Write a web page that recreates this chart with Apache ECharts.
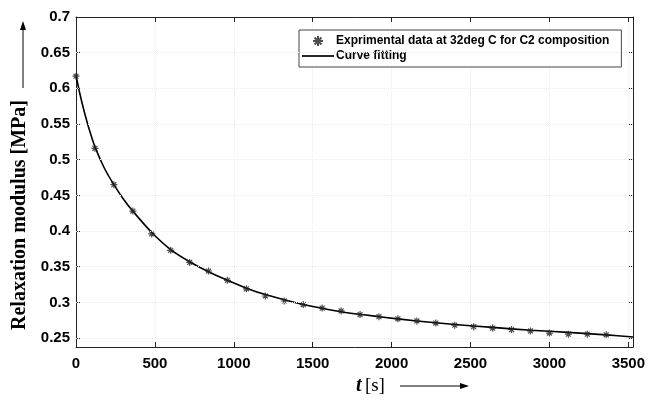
<!DOCTYPE html>
<html>
<head>
<meta charset="utf-8">
<script src="https://cdn.jsdelivr.net/npm/echarts@6/dist/echarts.min.js"></script>
<style>
  html, body { margin: 0; padding: 0; background: #fff; }
  #chart { width: 648px; height: 401px; }
</style>
</head>
<body>
<div id="chart"></div>
<script>
// measured points (time in s, modulus in MPa)
var expT = [0, 120, 240, 360, 480, 600, 720, 840, 960, 1080, 1200, 1320, 1440, 1560, 1680,
    1800, 1920, 2040, 2160, 2280, 2400, 2520, 2640, 2760, 2880, 3000, 3120, 3240, 3360];
var expG = [0.617, 0.516, 0.465, 0.428, 0.396, 0.373, 0.356, 0.344, 0.331, 0.319, 0.309, 0.302,
    0.297, 0.292, 0.288, 0.283, 0.280, 0.277, 0.274, 0.271, 0.268, 0.266, 0.264, 0.262,
    0.260, 0.257, 0.2555, 0.2555, 0.2546];

// fitted curve
var fitT = [0, 20, 40, 60, 90, 120, 180, 240, 300, 360, 480, 600, 720, 840, 960, 1080, 1200,
    1440, 1680, 1920, 2160, 2400, 2640, 2880, 3120, 3360, 3530];
var fitG = [0.618, 0.597, 0.578, 0.561, 0.538, 0.518, 0.488, 0.465, 0.445, 0.428, 0.398, 0.374,
    0.357, 0.343, 0.331, 0.320, 0.311, 0.297, 0.287, 0.280, 0.274, 0.269, 0.265, 0.261,
    0.258, 0.2545, 0.2515];

var yTicks = [0.25, 0.3, 0.35, 0.4, 0.45, 0.5, 0.55, 0.6, 0.65, 0.7];

var chart = echarts.init(document.getElementById('chart'));

var star = 'path://M5,0 L5,10 M0,5 L10,5 M1.5,1.5 L8.5,8.5 M1.5,8.5 L8.5,1.5';
var labelFont = {
    color: '#000',
    fontFamily: '"Liberation Sans", Arial, sans-serif',
    fontWeight: 'bold',
    fontSize: 15
};
var gridCol = '#ececec';
var boxLine = { show: true, onZero: false, lineStyle: { color: '#222', width: 1 } };
var tickIn = { show: true, inside: true, length: 5, lineStyle: { color: '#222' } };

chart.setOption({
    animation: false,
    grid: { left: 76, right: 13, top: 17, bottom: 54 },
    legend: {
        orient: 'vertical',
        left: 299,
        top: 30,
        padding: [5, 12, 5, 3],
        itemGap: 3,
        itemWidth: 32,
        itemHeight: 10,
        borderColor: '#444',
        borderWidth: 1,
        backgroundColor: '#fff',
        textStyle: {
            color: '#000',
            fontFamily: '"Liberation Sans", Arial, sans-serif',
            fontWeight: 'bold',
            fontSize: 12,
            padding: [0, 0, 0, -3]
        },
        data: [
            { name: 'Exprimental data at 32deg C for C2 composition' },
            { name: 'Curve fitting', icon: 'path://M0,4 L30,4 L30,5.6 L0,5.6 Z' }
        ]
    },
    xAxis: [{
        type: 'value',
        min: 0,
        max: 3530,
        interval: 500,
        axisLine: boxLine,
        axisTick: tickIn,
        axisLabel: Object.assign({ margin: 9, formatter: v => String(v) }, labelFont),
        splitLine: { show: true, lineStyle: { color: gridCol, type: 'dotted', width: 1 } }
    }, {
        type: 'value',
        position: 'top',
        min: 0,
        max: 3530,
        interval: 500,
        axisLine: boxLine,
        axisTick: tickIn,
        axisLabel: { show: false },
        splitLine: { show: false }
    }],
    yAxis: [{
        type: 'value',
        min: 0.2375,
        max: 0.7,
        axisLine: boxLine,
        axisTick: Object.assign({ customValues: yTicks }, tickIn),
        axisLabel: Object.assign({ margin: 6, customValues: yTicks }, labelFont),
        splitLine: { show: false }
    }, {
        type: 'value',
        position: 'right',
        min: 0.2375,
        max: 0.7,
        axisLine: boxLine,
        axisTick: Object.assign({ customValues: yTicks }, tickIn),
        axisLabel: { show: false, customValues: yTicks },
        splitLine: { show: false }
    }],
    series: [{
        name: 'Exprimental data at 32deg C for C2 composition',
        type: 'scatter',
        symbol: star,
        symbolSize: 7,
        itemStyle: { color: 'rgba(0,0,0,0)', borderColor: '#222', borderWidth: 1.2 },
        data: expT.map((t, i) => [t, expG[i]]),
        z: 3
    }, {
        name: 'Curve fitting',
        type: 'line',
        smooth: 0.3,
        symbol: 'none',
        lineStyle: { color: '#000', width: 1.6 },
        itemStyle: { color: '#000' },
        data: fitT.map((t, i) => [t, fitG[i]]),
        markLine: {
            silent: true,
            symbol: 'none',
            label: { show: false },
            lineStyle: { color: gridCol, type: 'dotted', width: 1 },
            data: yTicks.slice(0, -1).map(v => ({ yAxis: v }))
        },
        z: 2
    }],
    graphic: [
        {
            type: 'text',
            x: 20, y: 215,
            rotation: Math.PI / 2,
            style: {
                text: 'Relaxation modulus [MPa]',
                font: 'bold 20px "Liberation Serif", "Times New Roman", serif',
                fill: '#000',
                align: 'center',
                verticalAlign: 'middle'
            }
        },
        { type: 'line', shape: { x1: 23, y1: 88, x2: 23, y2: 28 }, style: { stroke: '#000', lineWidth: 1 } },
        { type: 'polygon', shape: { points: [[23, 21], [20, 30], [26, 30]] }, style: { fill: '#000' } },
        {
            type: 'text',
            x: 356, y: 386,
            style: {
                text: '{t|t} {s|[s]}',
                verticalAlign: 'middle',
                rich: {
                    t: { font: 'italic bold 20px "Liberation Serif", serif', fill: '#000' },
                    s: { font: '19px "Liberation Serif", serif', fill: '#000' }
                }
            }
        },
        { type: 'line', shape: { x1: 400, y1: 386, x2: 461, y2: 386 }, style: { stroke: '#000', lineWidth: 1 } },
        { type: 'polygon', shape: { points: [[469, 386], [460, 383], [460, 389]] }, style: { fill: '#000' } }
    ]
});
</script>
</body>
</html>
